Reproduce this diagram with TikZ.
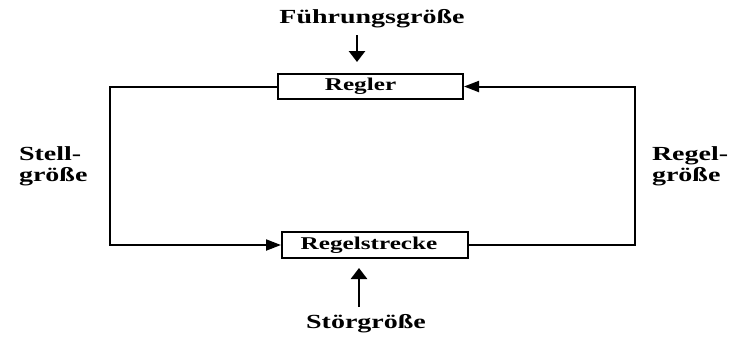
\documentclass[tikz,border=0pt]{standalone}
\usepackage{fontspec}
\usepackage{graphicx}
\setmainfont{Liberation Serif}
\usetikzlibrary{arrows.meta}

% wide-set lettering used throughout the diagram
\newcommand\widetext[2][1.4]{\scalebox{#1}[1]{#2}}

\begin{document}
\begin{tikzpicture}[x=0.5pt,y=-0.5pt,
  line width=1pt,
  block/.style={draw, line width=1pt, inner sep=0pt, fill=white,
    font=\fontsize{9pt}{10pt}\selectfont\bfseries},
  lbl/.style={inner sep=0pt, font=\fontsize{10pt}{10.5pt}\selectfont\bfseries},
  sidelbl/.style={lbl, align=left},
  hflow/.style={-{Triangle[length=7.5pt,width=5.5pt]}},
  vflow/.style={line width=1.4pt, -{Triangle[length=5.5pt,width=8pt]}}]
\useasboundingbox (0,0) rectangle (745,345);

% controller and plant (labels sit a little left of the box centre)
\node[block, minimum width=92.5pt, minimum height=12.5pt] (regler) at (370.5,86.5)
  {\hspace*{-10pt}\widetext{Regler}};
\node[block, minimum width=93pt, minimum height=13pt] (strecke) at (375,245)
  {\hspace*{-6pt}\widetext{Regelstrecke}};

% external signals
\node[lbl] (fuehr) at (372,19) {\widetext{Führungsgröße}};
\node[lbl] (stoer) at (366,324) {\widetext{Störgröße}};
\coordinate (f1) at (357,35);
\coordinate (f2) at (357,62);
\coordinate (s1) at (359,307);
\coordinate (s2) at (359,268);
\draw[vflow] (f1) -- (f2);
\draw[vflow] (s1) -- (s2);

% feedback loop
\coordinate (lc) at (110,0);
\coordinate (rc) at (635,0);
\draw[hflow] (regler.west) -- (regler.west -| lc) |- (strecke.west);
\draw[hflow] (strecke.east) -- (strecke.east -| rc) |- (regler.east);

% loop signal names
\node[sidelbl, anchor=west] (stell) at (18,166) {\widetext{Stell-}\\\widetext{größe}};
\node[sidelbl, anchor=west] (regelg) at (651,166) {\widetext{Regel-}\\\widetext{größe}};
\end{tikzpicture}
\end{document}
